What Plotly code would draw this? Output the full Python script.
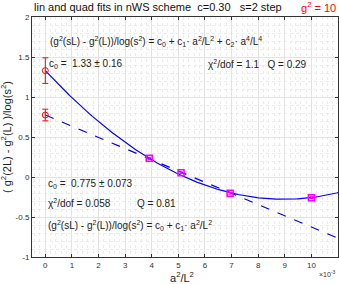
import numpy as np
import plotly.graph_objects as go

# data (x in units of 1e-3)
x_data = [3.906, 5.102, 6.944, 10.0]
y_data = [0.234, 0.054, -0.204, -0.258]
y_err = [0.012, 0.010, 0.010, 0.010]

c0_quad, c0_quad_err = 1.33, 0.16
c0_lin, c0_lin_err = 0.775, 0.073
c1_quad, c2_quad = -0.3587, 0.0200
c1_lin = -0.140

x_ticks = [0, 1, 2, 3, 4, 5, 6, 7, 8, 9, 10]
y_ticks = [-1, -0.5, 0, 0.5, 1, 1.5, 2]

xf = np.linspace(0, 11, 200)
yq = c0_quad + c1_quad * xf + c2_quad * xf**2
yl = c0_lin + c1_lin * xf

fig = go.Figure()
fig.add_trace(go.Scatter(x=xf, y=yq, mode="lines", line=dict(color="#0000ff", width=1.2), showlegend=False))
fig.add_trace(go.Scatter(x=xf, y=yl, mode="lines", line=dict(color="#0000ff", width=1.2, dash="dash"), showlegend=False))
fig.add_trace(go.Scatter(x=x_data, y=y_data, mode="markers",
                         error_y=dict(type="data", array=y_err, color="#ff00ff", thickness=1, width=2),
                         marker=dict(symbol="square-open", size=6, color="#ff00ff", line=dict(width=1.5)),
                         showlegend=False))
fig.add_trace(go.Scatter(x=[0, 0], y=[c0_quad, c0_lin], mode="markers",
                         error_y=dict(type="data", array=[c0_quad_err, c0_lin_err], color="#ff0000", thickness=1, width=3),
                         marker=dict(symbol="circle-open", size=6, color="#ff0000", line=dict(width=1)),
                         showlegend=False))

ax = dict(showline=True, linecolor="#333333", linewidth=1, mirror="ticks", ticks="inside", ticklen=3,
          tickcolor="#333333", showgrid=True, gridcolor="#e3e3e3", gridwidth=1, zeroline=False, automargin=False,
          tickfont=dict(size=8, color="#333333", family="Liberation Sans"))
fig.update_xaxes(**ax, range=[-0.5, 11], tickvals=x_ticks,
                 minor=dict(dtick=0.2, showgrid=True, gridcolor="#ececec", griddash="dot", ticks=""))
fig.update_yaxes(**ax, range=[-1, 2], tickvals=y_ticks, ticktext=["-1", "-0.5", "0", "0.5", "1", "1.5", "2"],
                 minor=dict(dtick=0.1, showgrid=True, gridcolor="#ececec", griddash="dot", ticks=""))

fnt = dict(family="Liberation Sans", size=10, color="#222222")
ann = [
    dict(x=0.0, y=1.04, text="lin and quad fits in nWS scheme  c=0.30   s=2 step", xref="paper", yref="paper",
         xanchor="left", yanchor="middle", font=dict(family="Liberation Sans", size=11, color="#111111")),
    dict(x=1.0, y=1.04, text="g<sup>2</sup> = 10", xref="paper", yref="paper",
         xanchor="right", yanchor="middle", font=dict(family="Liberation Sans", size=11, color="#ff0000")),
    dict(x=0.1, y=1.69, text="(g<sup>2</sup>(sL) - g<sup>2</sup>(L))/log(s<sup>2</sup>) = c<sub>0</sub> + c<sub>1</sub>· a<sup>2</sup>/L<sup>2</sup> + c<sub>2</sub>· a<sup>4</sup>/L<sup>4</sup>",
         xanchor="left", yanchor="middle", font=fnt),
    dict(x=0.05, y=1.41, text="c<sub>0</sub> =  1.33 ± 0.16", xanchor="left", yanchor="middle", font=fnt),
    dict(x=6.04, y=1.41, text="χ<sup>2</sup>/dof = 1.1   Q = 0.29", xanchor="left", yanchor="middle", font=fnt),
    dict(x=0.03, y=-0.09, text="c<sub>0</sub> =  0.775 ± 0.073", xanchor="left", yanchor="middle", font=fnt),
    dict(x=0.03, y=-0.33, text="χ<sup>2</sup>/dof = 0.058", xanchor="left", yanchor="middle", font=fnt),
    dict(x=3.37, y=-0.33, text="Q = 0.81", xanchor="left", yanchor="middle", font=fnt),
    dict(x=0.03, y=-0.6, text="(g<sup>2</sup>(sL) - g<sup>2</sup>(L))/log(s<sup>2</sup>) = c<sub>0</sub> + c<sub>1</sub>· a<sup>2</sup>/L<sup>2</sup>",
         xanchor="left", yanchor="middle", font=fnt),
    dict(x=1.0, y=-0.071, xref="paper", yref="paper", text="×10<sup>-3</sup>", xanchor="right", yanchor="middle",
         font=dict(family="Liberation Sans", size=7, color="#333333")),
    dict(x=0.49, y=-0.085, xref="paper", yref="paper", text="a<sup>2</sup>/L<sup>2</sup>", xanchor="center", yanchor="middle",
         font=dict(family="Liberation Sans", size=11, color="#222222")),
    dict(x=-0.085, y=0.5, xref="paper", yref="paper", text="( g<sup>2</sup>(2L) - g<sup>2</sup>(L) )/log(s<sup>2</sup>)",
         textangle=-90, xanchor="center", yanchor="middle",
         font=dict(family="Liberation Sans", size=11, color="#222222")),
]
for a in ann:
    a.setdefault("xref", "x")
    a.setdefault("yref", "y")
    a["showarrow"] = False
fig.update_layout(annotations=ann)

fig.update_layout(
    width=339, height=284, margin=dict(l=32, r=1, t=17, b=27, autoexpand=False),
    paper_bgcolor="white", plot_bgcolor="white",
)
fig.write_html("out.html", config={"displayModeBar": False},
               post_script="document.body.style.margin='0';document.body.style.overflow='hidden';")
